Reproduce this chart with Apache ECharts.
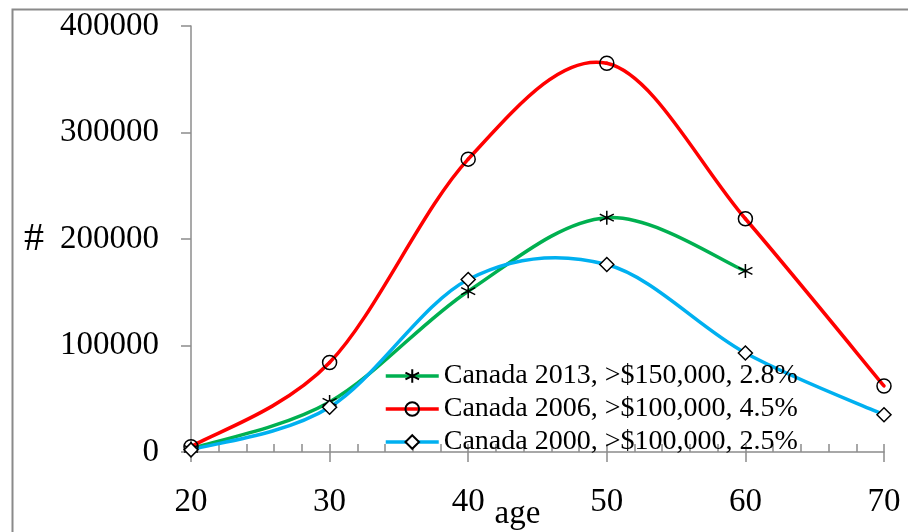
<!DOCTYPE html>
<html>
<head>
<meta charset="utf-8">
<script src="https://cdn.jsdelivr.net/npm/echarts@6/dist/echarts.min.js"></script>
<style>
html,body{margin:0;padding:0;background:#fff;}
#chart{width:908px;height:532px;}
</style>
</head>
<body>
<div id="chart"></div>
<script>
const ages = [20, 30, 40, 50, 60, 70];
const names = ['Canada 2013, >$150,000, 2.8%', 'Canada 2006, >$100,000, 4.5%', 'Canada 2000, >$100,000, 2.5%'];
const canada2013 = [3000, 47000, 151000, 220000, 170000];
const canada2006 = [5000, 84000, 275000, 365000, 219000, 62000];
const canada2000 = [2000, 42000, 162000, 176000, 93000, 35000];
const yTicks = [0, 100000, 200000, 300000, 400000];

const pairs = vals => vals.map((v, i) => [ages[i], v]);
const FONT = 'Liberation Serif';
const axisGray = '#8c8c8c';
const colors = ['#00b050', '#ff0000', '#00b0f0'];
const seriesVals = [canada2013, canada2006, canada2000];

const chart = echarts.init(document.getElementById('chart'));

// marker + legend series (line hidden; the smooth curve is drawn by a custom series)
const mk = (i, symbol, fill) => ({
  name: names[i],
  type: 'line',
  data: pairs(seriesVals[i]),
  symbol: symbol,
  symbolSize: 14,
  showSymbol: true,
  lineStyle: { color: colors[i], width: 3.5, opacity: 0 },
  itemStyle: { color: fill, borderColor: '#000', borderWidth: 1.5 },
  emphasis: { disabled: true },
  animation: false,
  z: 4
});

// Excel-like (Catmull-Rom) smoothed curve, positioned through api.coord
const curve = i => ({
  name: 'curve' + i,
  type: 'custom',
  data: pairs(seriesVals[i]),
  encode: { x: 0, y: 1 },
  animation: false,
  silent: true,
  z: 3,
  renderItem: (params, api) => {
    if (params.dataIndex !== 0) return null;
    const pts = pairs(seriesVals[i]).map(p => api.coord(p));
    const n = pts.length;
    const children = [];
    for (let k = 0; k < n - 1; k++) {
      const p0 = pts[Math.max(k - 1, 0)], p1 = pts[k], p2 = pts[k + 1], p3 = pts[Math.min(k + 2, n - 1)];
      children.push({
        type: 'bezierCurve',
        shape: {
          x1: p1[0], y1: p1[1], x2: p2[0], y2: p2[1],
          cpx1: p1[0] + (p2[0] - p0[0]) / 6, cpy1: p1[1] + (p2[1] - p0[1]) / 6,
          cpx2: p2[0] - (p3[0] - p1[0]) / 6, cpy2: p2[1] - (p3[1] - p1[1]) / 6
        },
        style: { stroke: colors[i], lineWidth: 3.5, fill: 'none', lineCap: 'round' }
      });
    }
    return { type: 'group', children: children };
  }
});

chart.setOption({
  animation: false,
  backgroundColor: '#fff',
  graphic: [{
    type: 'rect', left: 10, top: 7, z: 0,
    shape: { width: 1000, height: 600 },
    style: { fill: 'none', stroke: '#8a8a8a', lineWidth: 2 }
  }],
  grid: { left: 191, right: 24, top: 26, bottom: 80, outerBoundsMode: 'none', containLabel: false },
  legend: {
    orient: 'vertical',
    left: 384, top: 362,
    padding: 0,
    itemWidth: 53, itemHeight: 17, itemGap: 5,
    data: names,
    lineStyle: { width: 3.5, opacity: 1 },
    textStyle: { fontFamily: FONT, fontSize: 28, color: '#000', lineHeight: 28 },
    selectedMode: false
  },
  xAxis: [{
    type: 'value', min: 20, max: 70, interval: 10,
    name: 'age', nameLocation: 'middle', nameGap: 62, nameMoveOverlap: false,
    nameTextStyle: { fontFamily: FONT, fontSize: 33, color: '#000', verticalAlign: 'middle', padding: [0, 40, 0, 0] },
    axisLine: { show: true, onZero: false, lineStyle: { color: axisGray, width: 1.5 } },
    axisTick: { show: true, length: 10, lineStyle: { color: axisGray, width: 1.5 } },
    axisLabel: { fontFamily: FONT, fontSize: 33, color: '#000', margin: 34 },
    splitLine: { show: false }
  }, {
    type: 'value', min: 20, max: 70, interval: 2, position: 'bottom',
    axisLine: { show: false, onZero: false },
    axisTick: { show: true, inside: true, length: 8, lineStyle: { color: axisGray, width: 1.5 } },
    axisLabel: { show: false },
    splitLine: { show: false }
  }],
  yAxis: {
    type: 'value', min: yTicks[0], max: yTicks[yTicks.length - 1], interval: 100000,
    name: '#', nameLocation: 'middle', nameRotate: 0, nameGap: 157,
    nameTextStyle: { fontFamily: FONT, fontSize: 40, color: '#000', align: 'center', verticalAlign: 'middle' },
    axisLine: { show: true, lineStyle: { color: axisGray, width: 1.5 } },
    axisTick: { show: true, length: 10, lineStyle: { color: axisGray, width: 1.5 } },
    axisLabel: { fontFamily: FONT, fontSize: 33, color: '#000', margin: 32, formatter: v => String(v) },
    splitLine: { show: false }
  },
  series: [
    curve(0), curve(1), curve(2),
    mk(0, 'path://M7,0L7,14M0.5,3.5L13.5,10.5M0.5,10.5L13.5,3.5', 'none'),
    mk(1, 'circle', 'rgba(0,0,0,0)'),
    mk(2, 'diamond', '#fff')
  ]
});
</script>
</body>
</html>
